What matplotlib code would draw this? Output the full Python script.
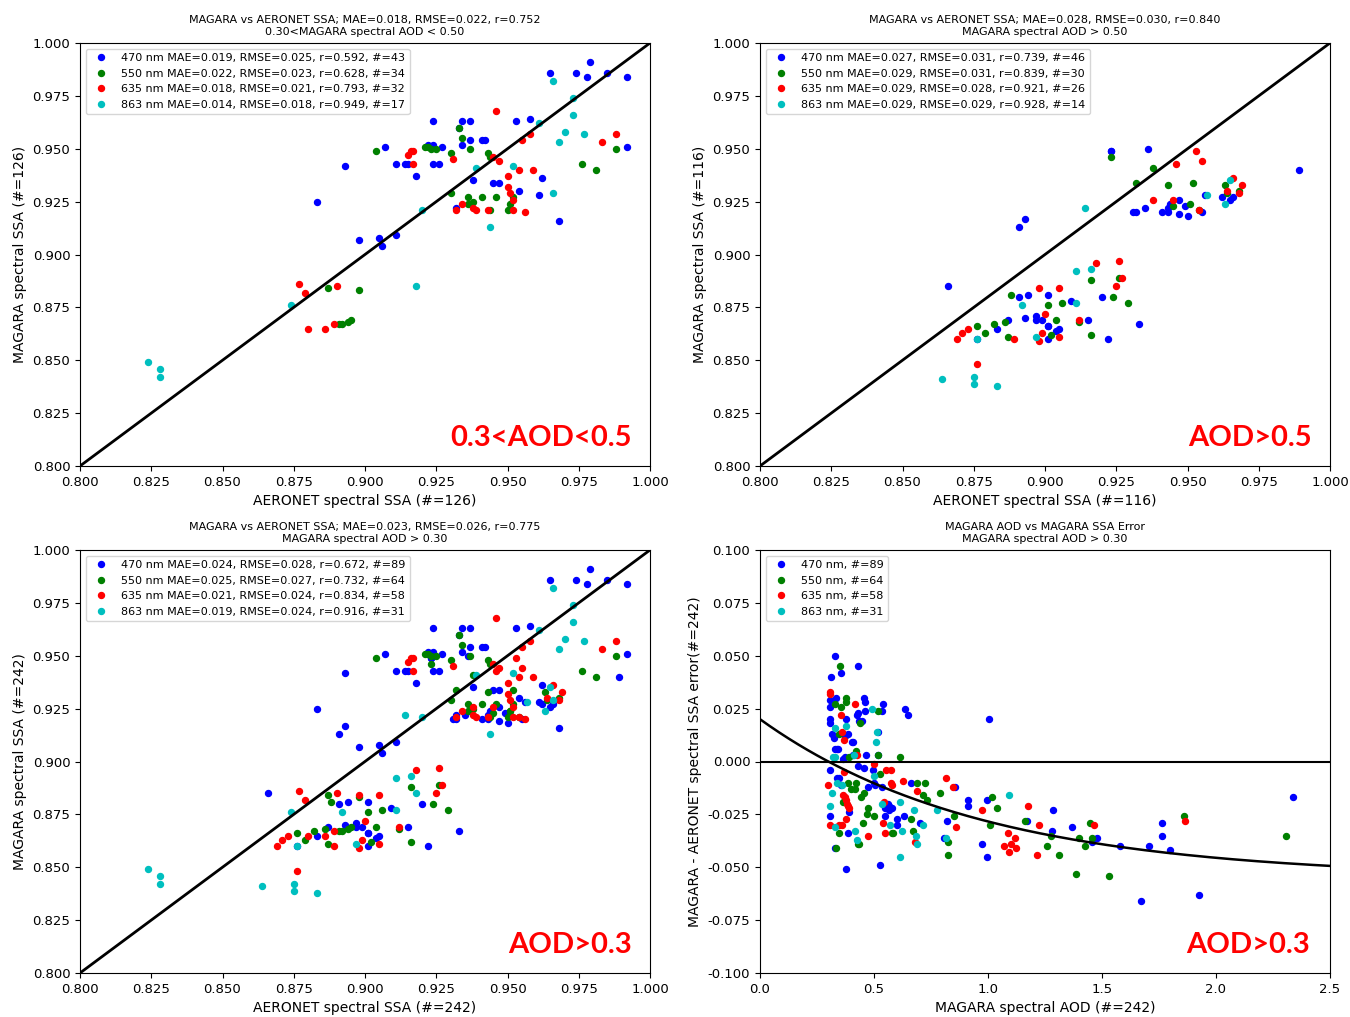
import numpy as np
import matplotlib
matplotlib.use("Agg")
import matplotlib.pyplot as plt

# wavelengths and colours
bands = ["470 nm", "550 nm", "635 nm", "863 nm"]
band_colors = ["b", "g", "r", "c"]

# ---- 0.3 < AOD < 0.5 : AERONET (x) vs MAGARA (y) SSA
aer_lo_470 = [0.979, 0.965, 0.974, 0.978, 0.985, 0.992, 0.992, 0.924, 0.934, 0.937, 0.953, 0.958, 0.933, 0.937,
              0.941, 0.942, 0.934, 0.922, 0.924, 0.927, 0.907, 0.911, 0.914, 0.915, 0.924, 0.926, 0.893, 0.918,
              0.938, 0.962, 0.945, 0.947, 0.954, 0.961, 0.932, 0.883, 0.968, 0.898, 0.905, 0.906, 0.911]
mag_lo_470 = [0.991, 0.986, 0.986, 0.984, 0.986, 0.984, 0.951, 0.963, 0.963, 0.963, 0.963, 0.964, 0.960, 0.954,
              0.954, 0.954, 0.952, 0.952, 0.952, 0.951, 0.951, 0.943, 0.943, 0.943, 0.943, 0.943, 0.942, 0.937,
              0.935, 0.936, 0.934, 0.934, 0.930, 0.928, 0.922, 0.925, 0.916, 0.907, 0.908, 0.904, 0.909]
aer_lo_550 = [0.904, 0.921, 0.922, 0.923, 0.925, 0.933, 0.934, 0.937, 0.930, 0.943, 0.944, 0.976, 0.981, 0.988,
              0.930, 0.936, 0.938, 0.941, 0.946, 0.936, 0.944, 0.950, 0.951, 0.952, 0.887, 0.898, 0.891, 0.892,
              0.894, 0.895]
mag_lo_550 = [0.949, 0.951, 0.951, 0.950, 0.950, 0.960, 0.955, 0.950, 0.948, 0.948, 0.946, 0.943, 0.940, 0.950,
              0.929, 0.927, 0.925, 0.927, 0.927, 0.924, 0.921, 0.921, 0.924, 0.927, 0.884, 0.883, 0.867, 0.867,
              0.868, 0.869]
aer_lo_635 = [0.946, 0.917, 0.916, 0.915, 0.917, 0.931, 0.947, 0.945, 0.955, 0.958, 0.988, 0.983, 0.950, 0.954,
              0.959, 0.950, 0.951, 0.952, 0.934, 0.932, 0.938, 0.939, 0.943, 0.952, 0.956, 0.877, 0.879, 0.890,
              0.880, 0.886, 0.889]
mag_lo_635 = [0.968, 0.949, 0.949, 0.947, 0.943, 0.945, 0.944, 0.946, 0.954, 0.957, 0.957, 0.953, 0.937, 0.940,
              0.940, 0.932, 0.929, 0.926, 0.924, 0.921, 0.922, 0.921, 0.921, 0.921, 0.920, 0.886, 0.882, 0.885,
              0.865, 0.865, 0.867]
aer_lo_863 = [0.966, 0.973, 0.973, 0.970, 0.977, 0.968, 0.961, 0.939, 0.952, 0.966, 0.920, 0.944, 0.874, 0.918,
              0.824, 0.828, 0.828]
mag_lo_863 = [0.982, 0.974, 0.966, 0.958, 0.957, 0.953, 0.962, 0.941, 0.942, 0.929, 0.921, 0.913, 0.876, 0.885,
              0.849, 0.846, 0.842]

# ---- AOD > 0.5
aer_hi_470 = [0.923, 0.923, 0.936, 0.989, 0.891, 0.893, 0.866, 0.956, 0.962, 0.965, 0.966, 0.947, 0.944, 0.943,
              0.941, 0.943, 0.935, 0.931, 0.932, 0.947, 0.949, 0.950, 0.955, 0.891, 0.894, 0.901, 0.909, 0.920,
              0.887, 0.883, 0.876, 0.893, 0.897, 0.897, 0.899, 0.901, 0.901, 0.904, 0.905, 0.901, 0.915, 0.922,
              0.933]
mag_hi_470 = [0.949, 0.949, 0.950, 0.940, 0.913, 0.917, 0.885, 0.928, 0.927, 0.926, 0.927, 0.926, 0.924, 0.922,
              0.920, 0.920, 0.922, 0.920, 0.920, 0.919, 0.923, 0.918, 0.920, 0.880, 0.881, 0.881, 0.878, 0.880,
              0.869, 0.865, 0.860, 0.870, 0.871, 0.869, 0.869, 0.866, 0.866, 0.864, 0.865, 0.860, 0.869, 0.860,
              0.867]
aer_hi_550 = [0.923, 0.938, 0.932, 0.943, 0.952, 0.945, 0.951, 0.954, 0.963, 0.964, 0.968, 0.888, 0.916, 0.926,
              0.924, 0.929, 0.901, 0.906, 0.904, 0.876, 0.879, 0.882, 0.886, 0.887, 0.902, 0.912, 0.916]
mag_hi_550 = [0.946, 0.941, 0.934, 0.933, 0.934, 0.923, 0.924, 0.921, 0.933, 0.929, 0.930, 0.881, 0.888, 0.889,
              0.880, 0.877, 0.876, 0.877, 0.869, 0.866, 0.863, 0.867, 0.868, 0.861, 0.862, 0.868, 0.862]
aer_hi_635 = [0.953, 0.955, 0.946, 0.938, 0.945, 0.954, 0.966, 0.969, 0.964, 0.968, 0.918, 0.926, 0.927, 0.925,
              0.898, 0.905, 0.900, 0.899, 0.898, 0.905, 0.912, 0.889, 0.869, 0.871, 0.873, 0.876]
mag_hi_635 = [0.949, 0.944, 0.943, 0.926, 0.926, 0.921, 0.936, 0.933, 0.930, 0.929, 0.896, 0.897, 0.889, 0.885,
              0.884, 0.884, 0.872, 0.863, 0.859, 0.861, 0.869, 0.860, 0.860, 0.863, 0.865, 0.848]
aer_hi_863 = [0.914, 0.965, 0.957, 0.963, 0.911, 0.916, 0.911, 0.892, 0.897, 0.876, 0.864, 0.875, 0.875, 0.883]
mag_hi_863 = [0.922, 0.935, 0.928, 0.924, 0.892, 0.893, 0.877, 0.876, 0.861, 0.860, 0.841, 0.842, 0.839, 0.838]

# ---- MAGARA AOD vs SSA error (AOD > 0.3)
aod_470 = [0.327, 0.354, 0.311, 0.428, 0.307, 0.335, 0.307, 0.456, 0.461, 0.540, 0.634, 0.648, 0.460, 0.424,
           0.434, 0.306, 0.306, 0.315, 0.323, 0.328, 0.338, 0.371, 0.402, 0.466, 0.365, 1.004,
           0.306, 0.429, 0.456, 0.496, 0.501, 0.536, 0.357, 0.336, 0.857, 0.913, 0.913, 0.997, 0.820, 0.809,
           0.975, 0.996, 0.306, 0.392, 0.549, 0.564, 0.549, 0.600, 0.600, 0.631, 0.664, 0.700,
           0.327, 0.386, 0.376, 0.527, 1.169, 1.286, 1.281, 1.369, 1.454, 1.476, 1.577, 1.705, 1.761, 1.761,
           1.798, 1.673, 1.924, 2.336, 0.431, 0.534, 0.377, 0.446, 0.385, 0.406, 0.519, 0.344, 0.410, 0.373,
           0.518, 0.347, 0.475, 0.506, 0.560, 0.578, 0.565]
err_470 = [0.050, 0.042, 0.040, 0.045, 0.029, 0.030, 0.026, 0.030, 0.028, 0.027, 0.025, 0.022, 0.024, 0.022,
           0.019, 0.020, 0.018, 0.013, 0.011, 0.006, 0.006, 0.012, 0.009, 0.003, 0.001, 0.020,
           -0.004, -0.002, -0.003, -0.004, -0.010, -0.012, -0.011, -0.008, -0.012, -0.018, -0.021, -0.018,
           -0.028, -0.036, -0.039, -0.045, -0.026, -0.024, -0.022, -0.021, -0.026, -0.027, -0.030, -0.026,
           -0.010, -0.029, -0.041, -0.034, -0.051, -0.049, -0.028, -0.023, -0.033, -0.031, -0.038, -0.036,
           -0.040, -0.040, -0.029, -0.035, -0.042, -0.066, -0.063, -0.017, 0.023, 0.024, 0.020, 0.019, 0.013,
           0.009, 0.014, 0.006, 0.003, 0.002, 0.003, -0.008, -0.012, -0.011, -0.020, -0.022, -0.023]
aod_550 = [0.349, 0.331, 0.357, 0.376, 0.376, 0.516, 0.437, 0.519, 0.612, 0.389, 0.420, 0.346, 0.384, 0.420,
           0.400, 0.416, 0.442, 0.456, 0.528, 0.472, 0.469, 0.453, 0.500, 0.365, 0.346, 0.428, 0.333, 0.580,
           0.664, 0.672, 0.690, 0.722, 0.717, 0.733, 0.788, 0.823, 0.826, 0.849, 1.010, 1.018, 1.041, 1.162,
           1.276, 1.258, 1.311, 1.401, 1.449, 1.427, 1.454, 1.385, 1.532, 1.860, 2.309, 0.585, 0.436]
err_550 = [0.045, 0.027, 0.026, 0.030, 0.028, 0.024, 0.018, 0.003, 0.002, 0.002, 0.005, 0.013, -0.010, -0.010,
           -0.013, -0.013, -0.017, -0.015, -0.006, -0.022, -0.025, -0.029, -0.026, -0.019, -0.034, -0.039,
           -0.041, -0.034, -0.027, -0.033, -0.010, -0.010, -0.016, -0.018, -0.015, -0.038, -0.044, -0.026,
           -0.030, -0.017, -0.022, -0.028, -0.035, -0.040, -0.044, -0.036, -0.029, -0.040, -0.036, -0.053,
           -0.054, -0.026, -0.035, -0.034, -0.039]
aod_635 = [0.306, 0.307, 0.357, 0.415, 0.360, 0.368, 0.424, 0.501, 0.299, 0.368, 0.365, 0.376, 0.384, 0.392,
           0.376, 0.347, 0.307, 0.472, 0.552, 0.575, 0.573, 0.581, 0.628, 0.690, 0.544, 0.540, 0.548, 0.679,
           0.815, 0.845, 0.858, 0.973, 1.086, 1.119, 1.124, 1.068, 1.103, 1.090, 1.174, 1.223, 1.215, 1.465,
           1.865, 0.358, 0.373, 0.381]
err_635 = [0.033, 0.032, 0.022, 0.027, 0.014, 0.010, 0.003, -0.001, -0.011, -0.005, -0.016, -0.018, -0.021,
           -0.022, -0.027, -0.030, -0.030, -0.035, -0.004, -0.004, -0.010, -0.011, -0.009, -0.014, -0.019,
           -0.029, -0.034, -0.038, -0.008, -0.012, -0.031, -0.023, -0.034, -0.036, -0.041, -0.040, -0.039,
           -0.043, -0.021, -0.030, -0.044, -0.030, -0.028, -0.030, -0.017, -0.020]
aod_863 = [0.490, 0.328, 0.378, 0.331, 0.322, 0.413, 0.508, 0.512, 0.306, 0.314, 0.336, 0.359, 0.500, 0.536,
           0.568, 0.616, 0.624, 0.677, 0.684, 0.690, 0.713, 0.777, 1.090, 0.416, 0.426, 0.613, 0.328, 0.815]
err_863 = [0.025, 0.016, 0.017, 0.002, 0.002, 0.003, 0.009, 0.014, -0.021, -0.015, -0.010, -0.011, -0.007,
           -0.020, -0.030, -0.019, -0.033, -0.023, -0.035, -0.039, -0.030, -0.023, -0.016, -0.033, -0.037,
           -0.045, -0.031, -0.036]

# fitted error curve  err = a + b*exp(-c*AOD)
fit_a, fit_b, fit_c = -0.055, 0.075, 1.035

# statistics shown in titles / legends
mae_lo, rmse_lo, r_lo, n_lo = [0.019, 0.022, 0.018, 0.014], [0.025, 0.023, 0.021, 0.018], [0.592, 0.628, 0.793, 0.949], [43, 34, 32, 17]
mae_hi, rmse_hi, r_hi, n_hi = [0.027, 0.029, 0.029, 0.029], [0.031, 0.031, 0.028, 0.029], [0.739, 0.839, 0.921, 0.928], [46, 30, 26, 14]
mae_all, rmse_all, r_all, n_all = [0.024, 0.025, 0.021, 0.019], [0.028, 0.027, 0.024, 0.024], [0.672, 0.732, 0.834, 0.916], [89, 64, 58, 31]

ssa_lim = [0.8, 1.0]
aod_lim = [0.0, 2.5]
err_lim = [-0.1, 0.1]

lo_x = [aer_lo_470, aer_lo_550, aer_lo_635, aer_lo_863]
lo_y = [mag_lo_470, mag_lo_550, mag_lo_635, mag_lo_863]
hi_x = [aer_hi_470, aer_hi_550, aer_hi_635, aer_hi_863]
hi_y = [mag_hi_470, mag_hi_550, mag_hi_635, mag_hi_863]
all_x = [a + b for a, b in zip(lo_x, hi_x)]
all_y = [a + b for a, b in zip(lo_y, hi_y)]
aods = [aod_470, aod_550, aod_635, aod_863]
errs = [err_470, err_550, err_635, err_863]

fig = plt.figure(figsize=(13.5, 10.17), dpi=100)
W, H = 1350, 1017


def axes_px(x0, y0, x1, y1):
    return fig.add_axes([x0 / W, 1 - y1 / H, (x1 - x0) / W, (y1 - y0) / H])


ax1 = axes_px(80, 43, 650, 466)
ax2 = axes_px(760, 43, 1330, 466)
ax3 = axes_px(80, 550, 650, 973)
ax4 = axes_px(760, 550, 1330, 973)

MS = 4.3
fmt3 = matplotlib.ticker.FuncFormatter(lambda v, p: "%.3f" % (round(v, 3) + 0.0))


def ssa_panel(ax, xs, ys, mae, rmse, r, n, title, ntot, tag):
    for k in range(4):
        lab = "%s MAE=%.3f, RMSE=%.3f, r=%.3f, #=%d" % (bands[k], mae[k], rmse[k], r[k], n[k])
        ax.plot(xs[k], ys[k], "o", ms=MS, color=band_colors[k], ls="none", label=lab)
    ax.plot(ssa_lim, ssa_lim, color="k", lw=2)
    ax.set_xlim(ssa_lim)
    ax.set_ylim(ssa_lim)
    ax.set_xticks(np.linspace(ssa_lim[0], ssa_lim[1], 9))
    ax.set_yticks(np.linspace(ssa_lim[0], ssa_lim[1], 9))
    ax.xaxis.set_major_formatter(fmt3)
    ax.yaxis.set_major_formatter(fmt3)
    ax.tick_params(labelsize=9.5)
    ax.set_xlabel("AERONET spectral SSA (#=%d)" % ntot, fontsize=10)
    ax.set_ylabel("MAGARA spectral SSA (#=%d)" % ntot, fontsize=10)
    ax.set_title(title, fontsize=8, pad=6)
    ax.legend(loc="upper left", fontsize=8, handletextpad=0.8)
    ax.text(0.968, 0.035, tag, transform=ax.transAxes, ha="right", va="bottom", color="red",
            fontsize=21, fontweight="bold", family=["Lato", "DejaVu Sans"])


ssa_panel(ax1, lo_x, lo_y, mae_lo, rmse_lo, r_lo, n_lo,
          "MAGARA vs AERONET SSA; MAE=0.018, RMSE=0.022, r=0.752\n0.30<MAGARA spectral AOD < 0.50", 126,
          "0.3<AOD<0.5")
ssa_panel(ax2, hi_x, hi_y, mae_hi, rmse_hi, r_hi, n_hi,
          "MAGARA vs AERONET SSA; MAE=0.028, RMSE=0.030, r=0.840\nMAGARA spectral AOD > 0.50", 116,
          "AOD>0.5")
ssa_panel(ax3, all_x, all_y, mae_all, rmse_all, r_all, n_all,
          "MAGARA vs AERONET SSA; MAE=0.023, RMSE=0.026, r=0.775\nMAGARA spectral AOD > 0.30", 242,
          "AOD>0.3")

# error vs AOD
for k in range(4):
    ax4.plot(aods[k], errs[k], "o", ms=MS, color=band_colors[k], ls="none",
             label="%s, #=%d" % (bands[k], n_all[k]))
grid = np.linspace(aod_lim[0], aod_lim[1], 300)
ax4.plot(grid, fit_a + fit_b * np.exp(-fit_c * grid), color="k", lw=1.8)
ax4.axhline(0, color="k", lw=1.5)
ax4.set_xlim(aod_lim)
ax4.set_ylim(err_lim)
ax4.set_yticks(np.linspace(err_lim[0], err_lim[1], 9))
ax4.yaxis.set_major_formatter(fmt3)
ax4.tick_params(labelsize=9.5)
ax4.set_xlabel("MAGARA spectral AOD (#=242)", fontsize=10)
ax4.set_ylabel("MAGARA - AERONET spectral SSA error(#=242)", fontsize=10)
ax4.set_title("MAGARA AOD vs MAGARA SSA Error\nMAGARA spectral AOD > 0.30", fontsize=8, pad=6)
ax4.legend(loc="upper left", fontsize=8, handletextpad=0.8)
ax4.text(0.965, 0.035, "AOD>0.3", transform=ax4.transAxes, ha="right", va="bottom", color="red",
         fontsize=21, fontweight="bold", family=["Lato", "DejaVu Sans"])

fig.savefig("out.png", dpi=100)
